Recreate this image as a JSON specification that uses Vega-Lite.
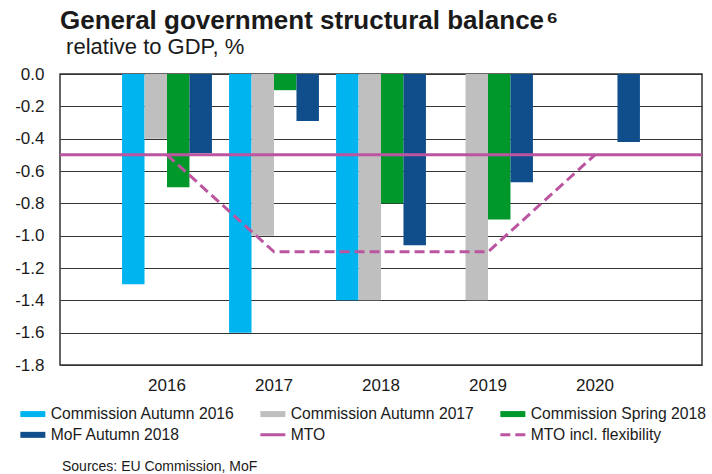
{
  "$schema": "https://vega.github.io/schema/vega-lite/v6.json",
  "width": 642,
  "height": 291,
  "autosize": {"type": "none"},
  "padding": {"left": 60, "top": 74, "right": 10, "bottom": 109},
  "background": "white",
  "config": {
    "font": "Liberation Sans",
    "view": {"stroke": "#333333", "strokeWidth": 1.5},
    "axis": {"labelColor": "#1a1a1a", "labelFont": "Liberation Sans"}
  },
  "title": {
    "text": "General government structural balance\u200a⁶",
    "subtitle": "\u200b\u00a0relative to GDP, %",
    "anchor": "start",
    "frame": "group",
    "fontSize": 26,
    "fontWeight": "bold",
    "color": "#1a1a1a",
    "subtitleFontSize": 22,
    "subtitleColor": "#1a1a1a",
    "subtitlePadding": 3,
    "offset": 7
  },
  "encoding": {
    "y": {
      "field": "value",
      "type": "quantitative",
      "scale": {"domain": [-1.8, 0], "nice": false},
      "axis": {
        "title": null,
        "values": [0, -0.2, -0.4, -0.6, -0.8, -1.0, -1.2, -1.4, -1.6, -1.8],
        "labelExpr": "replace(format(datum.value, '.1f'), '−', '-')",
        "labelOverlap": false,
        "grid": true,
        "gridColor": "#333333",
        "gridWidth": 1,
        "domain": false,
        "ticks": false,
        "tickSize": 0,
        "labelPadding": 16,
        "labelFontSize": 17
      }
    }
  },
  "layer": [
    {
      "data": {
        "values": [
          {"year": "2016", "series": "Commission Autumn 2016", "value": -1.3},
          {"year": "2016", "series": "Commission Autumn 2017", "value": -0.4},
          {"year": "2016", "series": "Commission Spring 2018", "value": -0.7},
          {"year": "2016", "series": "MoF Autumn 2018", "value": -0.49},
          {"year": "2017", "series": "Commission Autumn 2016", "value": -1.6},
          {"year": "2017", "series": "Commission Autumn 2017", "value": -1.0},
          {"year": "2017", "series": "Commission Spring 2018", "value": -0.1},
          {"year": "2017", "series": "MoF Autumn 2018", "value": -0.29},
          {"year": "2018", "series": "Commission Autumn 2016", "value": -1.4},
          {"year": "2018", "series": "Commission Autumn 2017", "value": -1.4},
          {"year": "2018", "series": "Commission Spring 2018", "value": -0.8},
          {"year": "2018", "series": "MoF Autumn 2018", "value": -1.06},
          {"year": "2019", "series": "Commission Autumn 2017", "value": -1.4},
          {"year": "2019", "series": "Commission Spring 2018", "value": -0.9},
          {"year": "2019", "series": "MoF Autumn 2018", "value": -0.67},
          {"year": "2020", "series": "MoF Autumn 2018", "value": -0.42}
        ]
      },
      "mark": {"type": "bar"},
      "encoding": {
        "x": {
          "field": "year",
          "type": "ordinal",
          "scale": {"paddingInner": 0.16, "paddingOuter": 0.58},
          "axis": {
            "title": null,
            "labelAngle": 0,
            "domain": false,
            "ticks": false,
            "tickSize": 0,
            "labelPadding": 12,
            "labelFontSize": 17,
            "grid": false
          }
        },
        "xOffset": {
          "field": "series",
          "type": "nominal",
          "scale": {"domain": ["Commission Autumn 2016", "Commission Autumn 2017", "Commission Spring 2018", "MoF Autumn 2018"], "paddingInner": 0, "paddingOuter": 0}
        },
        "color": {
          "field": "series",
          "type": "nominal",
          "scale": {
            "domain": ["Commission Autumn 2016", "Commission Autumn 2017", "Commission Spring 2018", "MoF Autumn 2018", "MTO", "MTO incl. flexibility"],
            "range": ["#00b5ef", "#bfbfbf", "#00972b", "#104e8b", "#bb55a0", "#bb55a0"]
          },
          "legend": {
            "orient": "none",
            "legendX": -35,
            "legendY": 332,
            "direction": "horizontal",
            "columns": 3,
            "padding": 0,
            "columnPadding": 19,
            "rowPadding": 4,
            "labelFontSize": 15.7,
            "labelColor": "#1a1a1a",
            "labelOffset": 10,
            "labelLimit": 400,
            "symbolSize": 625,
            "symbolType": "M-1,-0.24H1V0.24H-1Z",
            "title": "Sources: EU Commission, MoF",
            "titleOrient": "bottom",
            "titleAnchor": "start",
            "titleFontSize": 14,
            "titleFontWeight": "normal",
            "titleColor": "#1a1a1a",
            "titlePadding": 17,
            "titleLimit": 400,
            "encode": {
              "symbols": {
                "update": {
                  "shape": {"signal": "indexof(['MTO','MTO incl. flexibility'], datum.value) >= 0 ? 'M-1,0H1' : 'M-1,-0.24H1V0.24H-1Z'"},
                  "fill": {"signal": "indexof(['MTO','MTO incl. flexibility'], datum.value) >= 0 ? 'transparent' : scale('color', datum.value)"},
                  "stroke": {"signal": "scale('color', datum.value)"},
                  "strokeWidth": {"signal": "indexof(['MTO','MTO incl. flexibility'], datum.value) >= 0 ? 3 : 0"},
                  "strokeDash": {"signal": "datum.value === 'MTO incl. flexibility' ? [10,5] : [1,0]"},
                  "opacity": {"value": 1}
                }
              },
              "title": {"update": {"dx": {"value": 37}}}
            }
          }
        }
      }
    },
    {
      "data": {"values": [{"series": "MTO", "value": -0.5}]},
      "mark": {"type": "rule", "strokeWidth": 3},
      "encoding": {
        "color": {"field": "series", "type": "nominal"}
      }
    },
    {
      "data": {
        "values": [
          {"year": "2016", "series": "MTO incl. flexibility", "value": -0.5},
          {"year": "2017", "series": "MTO incl. flexibility", "value": -1.1},
          {"year": "2018", "series": "MTO incl. flexibility", "value": -1.1},
          {"year": "2019", "series": "MTO incl. flexibility", "value": -1.1},
          {"year": "2020", "series": "MTO incl. flexibility", "value": -0.5}
        ]
      },
      "mark": {"type": "line", "strokeWidth": 3, "strokeDash": [10, 5]},
      "encoding": {
        "x": {"field": "year", "type": "ordinal"},
        "color": {"field": "series", "type": "nominal"}
      }
    }
  ]
}
